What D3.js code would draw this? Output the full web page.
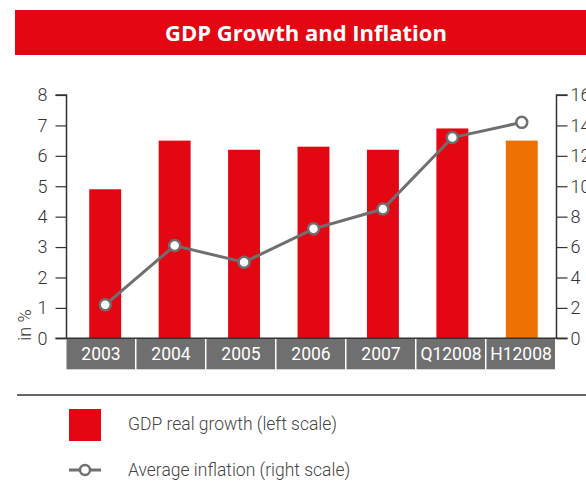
<!DOCTYPE html>
<html><head><meta charset="utf-8">
<script src="https://cdn.jsdelivr.net/npm/d3@7"></script>
<style>body{margin:0;background:#fff}svg{display:block}</style>
</head><body><svg id="c" width="586" height="497" font-family="Roboto, 'Liberation Sans', sans-serif"></svg>
<script>
const categories = ["2003","2004","2005","2006","2007","Q12008","H12008"];
const gdpGrowth = [4.9, 6.5, 6.2, 6.3, 6.2, 6.9, 6.5];
const inflation = [2.2, 6.1, 5.0, 7.2, 8.5, 13.2, 14.2];
const leftTicks = [0,1,2,3,4,5,6,7,8];
const rightTicks = [0,2,4,6,8,10,12,14,16];
const legendLabels = ["GDP real growth (left scale)", "Average inflation (right scale)"];

const svg = d3.select("#c");
const red = "#e30613", orange = "#ee7203", grey = "#6f6f6f", axisCol = "#333";

// title bar
svg.append("rect").attr("x",15).attr("y",10).attr("width",571).attr("height",45).attr("fill",red);
svg.append("text").attr("x",306).attr("y",40.5).attr("text-anchor","middle").attr("fill","#fff")
  .style("font-size","22px").style("font-weight",700).style("font-family","'Open Sans', sans-serif").text("GDP Growth and Inflation");

const y0 = 338.3, yTop = 95;
const yL = d3.scaleLinear().domain([0,8]).range([y0,yTop]);
const yR = d3.scaleLinear().domain([0,16]).range([y0,yTop]);
const xBox = d3.scaleBand().domain(categories).range([66,556]).padding(0);
const xBar = d3.scaleBand().domain(categories).range([70.5,556.5]).paddingInner(0.54).paddingOuter(0.27);
const cx = d => xBar(d) + xBar.bandwidth()/2;

// bars
svg.append("g").selectAll("rect").data(categories).join("rect")
  .attr("x", d => xBar(d)).attr("width", xBar.bandwidth())
  .attr("y", (d,i) => yL(gdpGrowth[i])).attr("height", (d,i) => y0 - yL(gdpGrowth[i]))
  .attr("fill", (d,i) => i === categories.length-1 ? orange : red);

// category boxes
const cat = svg.append("g");
cat.selectAll("rect").data(categories).join("rect")
  .attr("x", d => xBox(d)+0.5).attr("width", xBox.bandwidth()-1.5)
  .attr("y", y0).attr("height", 31).attr("fill", grey);
cat.selectAll("text").data(categories).join("text")
  .attr("x", d => xBox(d)+xBox.bandwidth()/2).attr("y", y0+22)
  .attr("text-anchor","middle").attr("fill","#fff").style("font-size","17.5px").style("font-family","Roboto").text(d => d);

// baseline
svg.append("line").attr("x1",66).attr("x2",557).attr("y1",y0).attr("y2",y0).attr("stroke",axisCol).attr("stroke-width",1.5);

// left axis
const gl = svg.append("g").attr("transform","translate(66.5,0)")
  .call(d3.axisLeft(yL).tickValues(leftTicks).tickSize(11).tickPadding(8).tickFormat(d3.format("d")));
gl.select(".domain").attr("stroke",axisCol).attr("stroke-width",1.5).attr("d",`M-11,${yTop}H0V${y0}H-11`);
gl.selectAll(".tick line").attr("stroke",axisCol).attr("stroke-width",1.2);
gl.selectAll(".tick text").attr("fill","#333").style("font-size","18px").style("font-weight",300).style("font-family","Roboto");

// right axis
const gr = svg.append("g").attr("transform","translate(556.5,0)")
  .call(d3.axisRight(yR).tickValues(rightTicks).tickSize(11).tickPadding(3).tickFormat(d3.format("d")));
gr.select(".domain").attr("stroke",axisCol).attr("stroke-width",1.5).attr("d",`M11,${yTop}H0V${y0}H11`);
gr.selectAll(".tick line").attr("stroke",axisCol).attr("stroke-width",1.2);
gr.selectAll(".tick text").attr("fill","#333").style("font-size","18px").style("font-weight",300).style("font-family","Roboto");

// y label
svg.append("text").attr("transform","translate(31,325) rotate(-90)").attr("text-anchor","middle")
  .attr("fill","#333").style("font-size","18px").style("font-weight",300).style("font-family","Roboto").text("in %");

// inflation line
const line = d3.line().x((d,i) => cx(categories[i])).y(d => yR(d));
svg.append("path").datum(inflation).attr("d", line).attr("fill","none").attr("stroke",grey).attr("stroke-width",3);
svg.append("g").selectAll("circle").data(inflation).join("circle")
  .attr("cx",(d,i) => cx(categories[i])).attr("cy", d => yR(d)).attr("r",5.5)
  .attr("fill","#fff").attr("stroke",grey).attr("stroke-width",2.5);

// separator line
svg.append("line").attr("x1",17).attr("x2",586).attr("y1",395).attr("y2",395).attr("stroke","#333").attr("stroke-width",1.5);

// legend
svg.append("rect").attr("x",69).attr("y",409).attr("width",32).attr("height",32).attr("fill",red);
svg.append("text").attr("x",128).attr("y",430).attr("fill","#444").style("font-size","17.5px").style("font-weight",300).style("font-family","Roboto").text(legendLabels[0]);
svg.append("line").attr("x1",69).attr("x2",101).attr("y1",470).attr("y2",470).attr("stroke",grey).attr("stroke-width",3);
svg.append("circle").attr("cx",85).attr("cy",470).attr("r",5).attr("fill","#fff").attr("stroke",grey).attr("stroke-width",2.5);
svg.append("text").attr("x",128).attr("y",476).attr("fill","#444").style("font-size","17.5px").style("font-weight",300).style("font-family","Roboto").text(legendLabels[1]);
</script></body></html>
